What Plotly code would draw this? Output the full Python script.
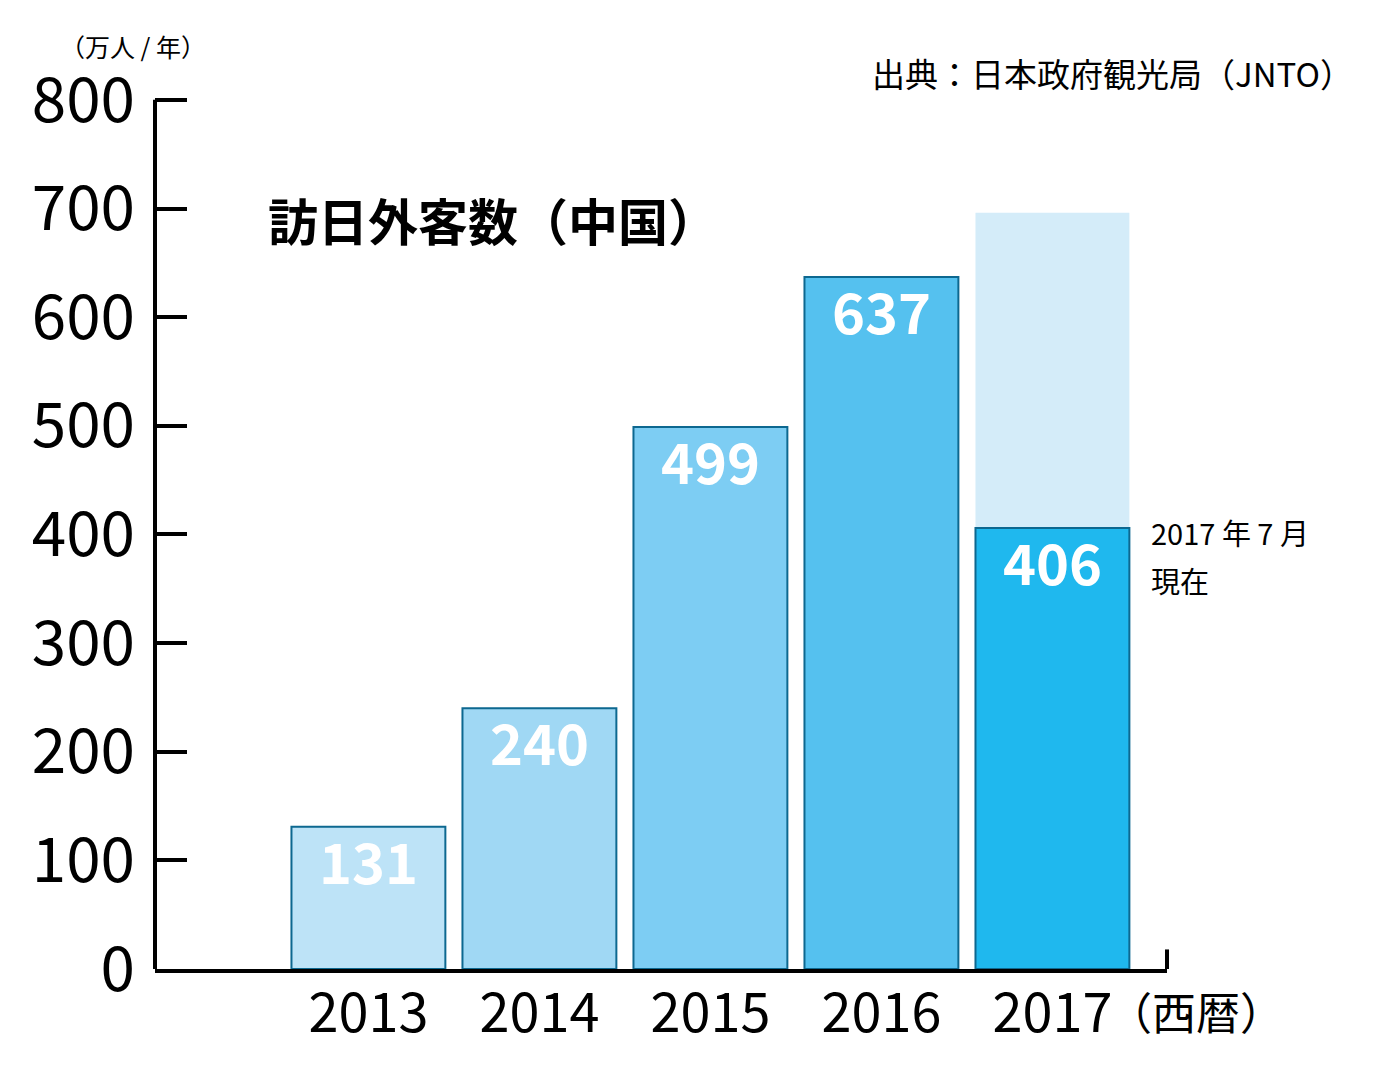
import plotly.graph_objects as go

YEARS = [2013, 2014, 2015, 2016, 2017]
YEAR_LABELS = ["2013", "2014", "2015", "2016", "2017"]
VISITORS = [131, 240, 499, 637, 406]
VALUE_LABELS = ["131", "240", "499", "637", "406"]
BAR_COLORS = ["#bde3f7", "#a0d8f4", "#7dcdf3", "#55c1ef", "#1fb8ee"]
PROJECTION_YEAR = [2017]
PROJECTION_VALUE = [696]
Y_TICKS = [0, 100, 200, 300, 400, 500, 600, 700, 800]
Y_TOP = 800

FONT = "Noto Sans CJK JP, Noto Sans, sans-serif"
BORDER = "#0d6890"

fig = go.Figure()
fig.add_trace(go.Bar(
    x=PROJECTION_YEAR, y=PROJECTION_VALUE, width=0.9,
    marker={"color": "#d4ecf9", "line": {"width": 0}},
    hoverinfo="skip",
))
fig.add_trace(go.Bar(
    x=YEARS, y=VISITORS, width=0.9,
    marker={"color": BAR_COLORS, "line": {"color": BORDER, "width": 2}},
    hovertemplate="%{x}: %{y}万人<extra></extra>",
))

for year, value, label in zip(YEARS, VISITORS, VALUE_LABELS):
    fig.add_annotation(
        x=year, y=value, text=label, showarrow=False, yanchor="top", yshift=10,
        font={"family": FONT, "size": 56, "color": "white", "weight": "bold"},
    )

fig.add_annotation(
    xref="paper", yref="y", x=0.110, y=690, xanchor="left", yanchor="middle",
    text="<b>訪日外客数（中国）</b>", showarrow=False,
    font={"family": FONT, "size": 50, "color": "black"},
)
fig.add_annotation(
    xref="paper", yref="paper", x=1.186, y=1.018, xanchor="right", yanchor="middle",
    text="出典：日本政府観光局（JNTO）", showarrow=False,
    font={"family": FONT, "size": 33, "color": "black"},
)
fig.add_annotation(
    xref="paper", yref="paper", x=-0.096, y=1.049, xanchor="left", yanchor="middle",
    text="（万人 / 年）", showarrow=False,
    font={"family": FONT, "size": 25, "color": "black"},
)
fig.add_annotation(
    xref="paper", yref="y", x=0.982, y=402, xanchor="left", yanchor="middle",
    text="2017 年 7 月", showarrow=False,
    font={"family": FONT, "size": 29, "color": "black"},
)
fig.add_annotation(
    xref="paper", yref="y", x=0.982, y=358, xanchor="left", yanchor="middle",
    text="現在", showarrow=False,
    font={"family": FONT, "size": 29, "color": "black"},
)
fig.add_annotation(
    xref="paper", yref="paper", x=0.94, y=-0.0474, xanchor="left", yanchor="middle",
    text="（西暦）", showarrow=False,
    font={"family": FONT, "size": 44, "color": "black"},
)

# y axis line (drawn as a shape so it stops exactly at the 800 tick)
fig.add_shape(
    type="line", xref="paper", yref="y", x0=0, x1=0, y0=0, y1=Y_TOP,
    line={"color": "black", "width": 4},
)
# small upward tick closing the right end of the x axis
fig.add_shape(
    type="line", xref="paper", yref="y", x0=1, x1=1, y0=0, y1=18,
    line={"color": "black", "width": 4},
)

fig.update_layout(
    width=1397, height=1087,
    paper_bgcolor="white", plot_bgcolor="white",
    barmode="overlay", showlegend=False,
    margin={"l": 147, "r": 238, "t": 81, "b": 126},
    font={"family": FONT, "color": "black"},
)
fig.update_xaxes(
    range=[2011.752, 2017.67], tickvals=YEARS, ticktext=YEAR_LABELS,
    showline=True, linecolor="black", linewidth=4, layer="below traces",
    showgrid=False, zeroline=False, ticks="", ticklabelstandoff=-6,
    tickfont={"family": FONT, "size": 54, "color": "black"},
)
fig.update_yaxes(
    range=[0, 810], tickvals=Y_TICKS,
    showline=False, showgrid=False, zeroline=False,
    ticks="inside", ticklen=32, tickwidth=4, tickcolor="black",
    ticklabelstandoff=19,
    tickfont={"family": FONT, "size": 62, "color": "black"},
)

fig.write_html("out.html")
